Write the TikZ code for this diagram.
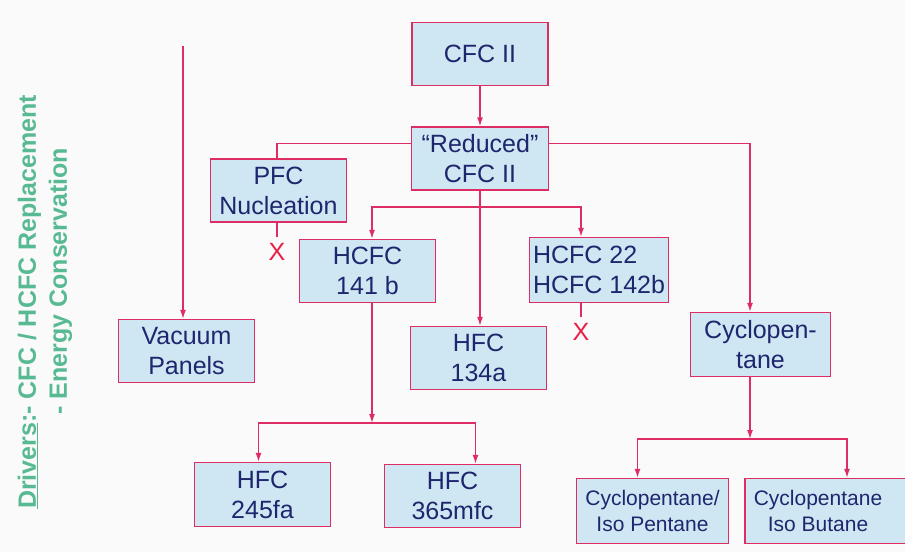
\documentclass[tikz,border=0pt]{standalone}
\usepackage{fontspec}
\setmainfont{Liberation Sans}
\usetikzlibrary{arrows.meta}
\definecolor{boxfill}{RGB}{207,231,243}
\definecolor{boxline}{RGB}{221,45,100}
\definecolor{boxtext}{RGB}{30,38,110}
\definecolor{drvgreen}{RGB}{88,186,146}
\definecolor{crossred}{RGB}{232,30,70}
\definecolor{pagebg}{RGB}{250,250,250}
\begin{document}
\begin{tikzpicture}[x=1pt, y=-1pt,
  box/.style={draw=boxline, fill=boxfill, line width=1.3pt, align=center, text=boxtext, inner sep=2pt, minimum width=136pt, minimum height=63pt, font=\fontsize{25}{30}\selectfont},
  smallbox/.style={box, font=\fontsize{21}{26}\selectfont},
  cross/.style={text=crossred, inner xsep=0pt, inner ysep=6pt, font=\fontsize{25}{30}\selectfont},
  link/.style={draw=boxline, line width=1.4pt},
  arr/.style={link, -{Latex[length=9pt, width=6pt]}}]
\useasboundingbox (0,0) rectangle (905,552);
\fill[pagebg] (0,0) rectangle (905,552);
\node[rotate=90, align=left, text=drvgreen, font=\fontsize{25}{31}\selectfont\bfseries] (DRV) at (45,302) {\underline{Drivers}:- CFC / HCFC Replacement\\\phantom{Drivers:}- Energy Conservation};
\node[box] (CFC) at (480,54) {CFC II};
\node[box, minimum width=137pt] (RED) at (480,158.5) {“Reduced”\\CFC II};
\node[box] (PFC) at (278.5,190.5) {PFC\\Nucleation};
\node[box] (H141) at (367.5,271) {HCFC\\141 b};
\node[box, align=left, minimum width=139pt, minimum height=65pt] (H22) at (599,270) {HCFC 22\\HCFC 142b};
\node[box] (VAC) at (186.5,351) {Vacuum\\Panels};
\node[box] (H134) at (478.5,358) {HFC\\134a};
\node[box, minimum width=140pt, minimum height=64pt] (CYC) at (760.5,344.5) {Cyclopen-\\tane};
\node[box, minimum height=64pt] (H245) at (262.5,494.5) {HFC\\245fa};
\node[box] (H365) at (452.5,496) {HFC\\365mfc};
\node[smallbox, minimum width=152pt, minimum height=65pt] (CPEN) at (652.5,511) {Cyclopentane/\\Iso Pentane};
\node[smallbox, minimum width=170pt, minimum height=65pt] (CBUT) at (830,511) {Cyclopentane\hspace*{24pt}\\Iso Butane\hspace*{24pt}};
\node[cross] (XPFC) at (277,252) {X};
\node[cross] (XH22) at (581,332) {X};
\coordinate (VTOP) at (183,46);
\coordinate (B1) at (480,207);
\coordinate (B2) at (372,423);
\coordinate (B3) at (750,439);
\draw[arr] (CFC) -- (RED);
\draw[link] ([yshift=15pt]RED.west) -| (XPFC |- PFC.north);
\draw[arr] ([yshift=15pt]RED.east) -| (B3 |- CYC.north);
\draw[link] (XPFC |- PFC.south) -- (XPFC.north);
\draw[link] (XH22 |- H22.south) -- (XH22.north);
\draw[arr] (VTOP) -- (VTOP |- VAC.north);
\draw[arr] (RED.south) -- (RED.south |- H134.north);
\draw[arr] (B1) -| (B2 |- H141.north);
\draw[arr] (B1) -| (XH22 |- H22.north);
\draw[arr] (B2 |- H141.south) -- (B2);
\draw[arr] (B2) -| ([xshift=-4pt]H245.north);
\draw[arr] (B2) -| ([xshift=23pt]H365.north);
\draw[arr] (B3 |- CYC.south) -- (B3);
\draw[arr] (B3) -| ([xshift=-15pt]CPEN.north);
\draw[arr] (B3) -| ([xshift=17pt]CBUT.north);
\end{tikzpicture}
\end{document}
